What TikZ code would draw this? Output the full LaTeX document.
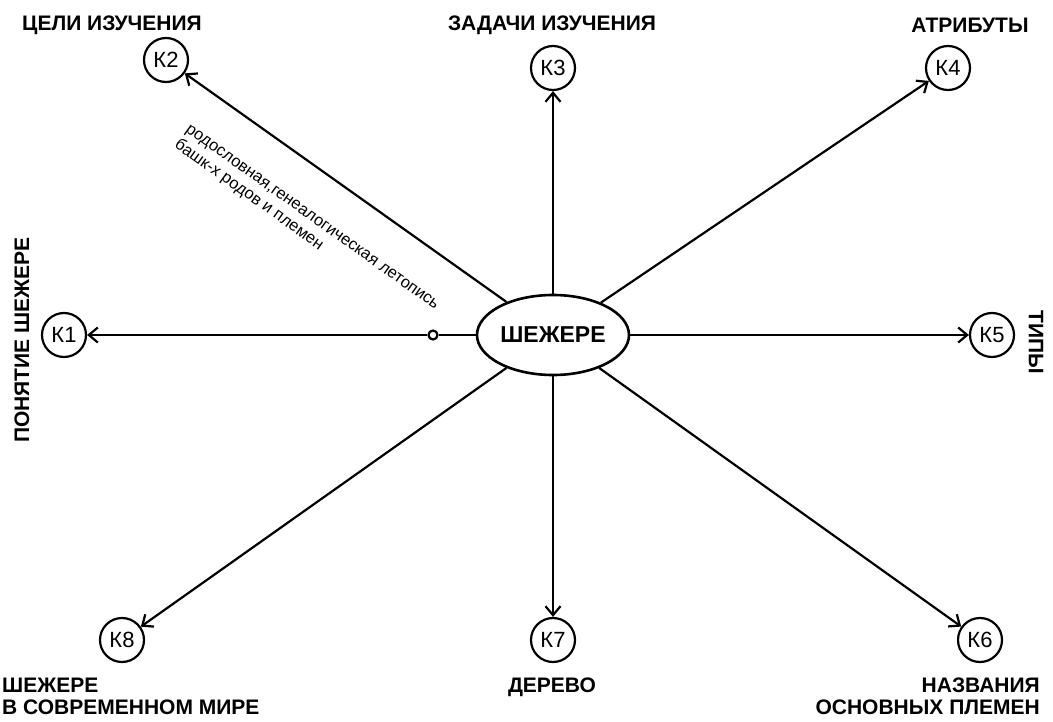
\documentclass[tikz,border=0pt]{standalone}
\usepackage{fontspec}
\setmainfont{Liberation Sans}
\usepackage{tikz}
\usetikzlibrary{shapes.geometric, arrows.meta, positioning}
\tikzstyle{kcircle} = [circle, draw, line width=2.2pt, minimum size=44pt, inner sep=0pt, font=\fontsize{22}{22}\selectfont]
\tikzstyle{hub} = [ellipse, draw, line width=2.6pt, minimum width=152pt, minimum height=80pt, inner sep=0pt, font=\bfseries\fontsize{23}{23}\selectfont]
\tikzstyle{title} = [inner sep=0pt, font=\bfseries\fontsize{21}{22}\selectfont]
\tikzstyle{note} = [inner sep=0pt, align=left, font=\fontsize{16.5}{19}\selectfont]
\tikzstyle{arrow} = [line width=2.2pt, -{Straight Barb[length=9pt,width=15pt]}]
\tikzstyle{line} = [line width=2.2pt, -]

\begin{document}
\begin{tikzpicture}[x=1pt, y=-1pt]
        \useasboundingbox (0,0) rectangle (1053,722);

        \node (shezhere) [hub] at (553,335) {ШЕЖЕРЕ};

        \node (k1) [kcircle] at (64,335) {К1};
        \node (k2) [kcircle] at (166,60) {К2};
        \node (k3) [kcircle] at (553,68) {К3};
        \node (k4) [kcircle] at (948,68) {К4};
        \node (k5) [kcircle] at (992,335) {К5};
        \node (k6) [kcircle] at (980,640) {К6};
        \node (k7) [kcircle] at (553,640) {К7};
        \node (k8) [kcircle] at (122,640) {К8};
        \node (dot) [circle, draw, fill=white, line width=2.2pt, minimum size=9pt, inner sep=0pt] at (433,335) {};

        % Titles
        \node (t1) [title, rotate=90] at (22,340) {ПОНЯТИЕ ШЕЖЕРЕ};
        \node (t2) [title] at (112,25) {ЦЕЛИ ИЗУЧЕНИЯ};
        \node (t3) [title] at (552,25) {ЗАДАЧИ ИЗУЧЕНИЯ};
        \node (t4) [title] at (970,25) {АТРИБУТЫ};
        \node (t5) [title, rotate=-90] at (1036,342) {ТИПЫ};
        \node (t6) [title, align=right, anchor=north east] at (1040,678) {НАЗВАНИЯ\\ОСНОВНЫХ ПЛЕМЕН};
        \node (t7) [title] at (552,687) {ДЕРЕВО};
        \node (t8) [title, align=left, anchor=north west] at (2,678) {ШЕЖЕРЕ\\В СОВРЕМЕННОМ МИРЕ};

        \node (remark) [note, rotate=-35.5] at (306,226) {родословная,генеалогическая летопись\\башк-х родов и племен};

        % Arrows from the centre
        \draw [line] (shezhere) -- (dot);
        \draw [arrow] (dot) -- (k1);
        \foreach \k in {k2,k3,k4,k5,k6,k7,k8}
            \draw [arrow] (shezhere) -- (\k);

    \end{tikzpicture}
\end{document}
